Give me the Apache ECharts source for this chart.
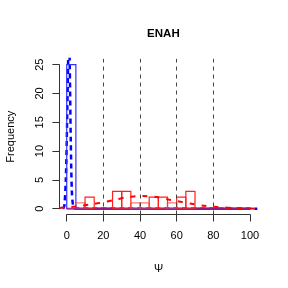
<!DOCTYPE html>
<html><head><meta charset="utf-8">
<script src="https://cdn.jsdelivr.net/npm/echarts@6/dist/echarts.min.js"></script>
<style>html,body{margin:0;padding:0;background:#fff}#c{width:288px;height:288px}</style>
</head><body><div id="c"></div>
<script>
// ---- data ----
const title = "ENAH";
const xLabel = "\u03A8";
const yLabel = "Frequency";
const binStarts = [0,5,10,15,20,25,30,35,40,45,50,55,60,65,70,75,80,85,90,95];
const binWidth = 5;
const blueCounts = [25,0,0,0,0,0,0,0,0,0,0,0,0,0,0,0,0,0,0,0];
const redCounts  = [0,1,2,0,0,3,3,1,1,2,2,1,2,3,0,0,0,0,0,0];
const xTicks = [0,20,40,60,80,100];
const yTicks = [0,5,10,15,20,25];
const refLines = [20,40,60,80];
const redDensX = [-4,-2,0,5,10,16,22,29,35,41,47,53,59,65,71,77,83,89,95,101,104];
const redDensY = [0.1,0.2,0.25,0.4,0.6,0.9,1.25,1.75,2.1,2.2,2.1,1.75,1.4,1.05,0.7,0.45,0.3,0.15,0.07,0.02,0];
const blueDensX = [-2,-1.3,-0.5,0.2,0.8,1.2,1.6,2.2,2.8,3.5,4.5,6,30,60,104];
const blueDensY = [0,0.5,5,15,26,32,26,12,3,0.5,0.05,0,0,0,0];

// ---- build ----
const blueBins = binStarts.map((s,i)=>[s, s+binWidth, blueCounts[i]]);
const redBins = binStarts.map((s,i)=>[s, s+binWidth, redCounts[i]]);
const redDens = redDensX.map((x,i)=>[x, redDensY[i]]);
const blueDens = blueDensX.map((x,i)=>[x, blueDensY[i]]);

function histRender(colorFn, lwFn){
  return function(params, api){
    const x0 = api.value(0), x1 = api.value(1), c = api.value(2);
    const p0 = api.coord([x0, 0]);
    const p1 = api.coord([x1, c]);
    return {type:'rect', shape:{x:p0[0], y:p1[1], width:p1[0]-p0[0], height:p0[1]-p1[1]},
      style:{fill:null, stroke:colorFn(c), lineWidth: lwFn(c)}};
  };
}

const FONT = 'Liberation Sans, Arial, sans-serif';
const L = 59.4, R = 30.7, T = 58.9, B = 73.5;

const chart = echarts.init(document.getElementById('c'), null, {renderer:'canvas'});
chart.setOption({
  animation:false,
  backgroundColor:'#fff',
  title:{text:title, left:158.4, top:23, textAlign:'center',
    textStyle:{fontFamily:FONT, fontWeight:'bold', fontSize:11.5, color:'#000'}},
  graphic:[
    {type:'text', top:263, left:154, style:{text:xLabel, fontFamily:FONT, fontSize:11, fill:'#000'}},
    {type:'text', rotation:Math.PI/2, x:5, y:136.7, style:{text:yLabel, fontFamily:FONT, fontSize:11, fill:'#000', align:'center', verticalAlign:'top'}}
  ],
  grid:[
    {left:L, right:R, top:T, bottom:B},
    {left:66.7, right:38, top:T, bottom:B},
    {left:L, right:R, top:64.7, bottom:79.3}
  ],
  xAxis:[
    {gridIndex:0, type:'value', min:-4, max:104, show:false},
    {gridIndex:1, type:'value', min:0, max:100, interval:20,
      axisLine:{show:true, lineStyle:{color:'#333', width:1}},
      axisTick:{show:true, length:7, inside:false, lineStyle:{color:'#333'}},
      axisLabel:{show:true, margin:16, fontFamily:FONT, fontSize:11, color:'#000',
        formatter:v=>xTicks.includes(v)?String(v):''},
      splitLine:{show:false}},
    {gridIndex:2, type:'value', min:0, max:1, show:false}
  ],
  yAxis:[
    {gridIndex:0, type:'value', min:-1, max:26, show:false},
    {gridIndex:1, type:'value', min:0, max:1, show:false},
    {gridIndex:2, type:'value', min:0, max:25, interval:5,
      axisLine:{show:true, lineStyle:{color:'#333', width:1}},
      axisTick:{show:true, length:7, lineStyle:{color:'#333'}},
      axisLabel:{show:true, rotate:90, margin:14, fontFamily:FONT, fontSize:11, color:'#000',
        formatter:v=>yTicks.includes(v)?String(v):''},
      splitLine:{show:false}}
  ],
  series:[
    {type:'line', xAxisIndex:0, yAxisIndex:0, data:blueDens, showSymbol:false, smooth:0.3, clip:true, z:1,
      lineStyle:{color:'#0000ff', width:2.5, type:[5,4]}},
    {type:'custom', xAxisIndex:0, yAxisIndex:0, data:blueBins, clip:true,
      renderItem:histRender(c=>'#3030ff', c=> c===0 ? 2.5 : 1.2), z:2,
      markLine:{silent:true, symbol:'none', label:{show:false},
        lineStyle:{color:'#444', type:[4,4], width:1},
        data:refLines.map(v=>({xAxis:v}))}},
    {type:'custom', xAxisIndex:0, yAxisIndex:0, data:redBins, clip:true, z:3,
      renderItem:histRender(c=> c===0 ? 'rgba(255,0,0,0.5)' : (c===1 ? 'rgba(255,60,60,0.7)' : '#ff2020'), c=> c===0 ? 2.5 : 1.2)},
    {type:'line', xAxisIndex:0, yAxisIndex:0, data:redDens, showSymbol:false, smooth:true, clip:true, z:4,
      lineStyle:{color:'#ff0000', width:2, type:[5,7]}}
  ]
});
</script></body></html>
